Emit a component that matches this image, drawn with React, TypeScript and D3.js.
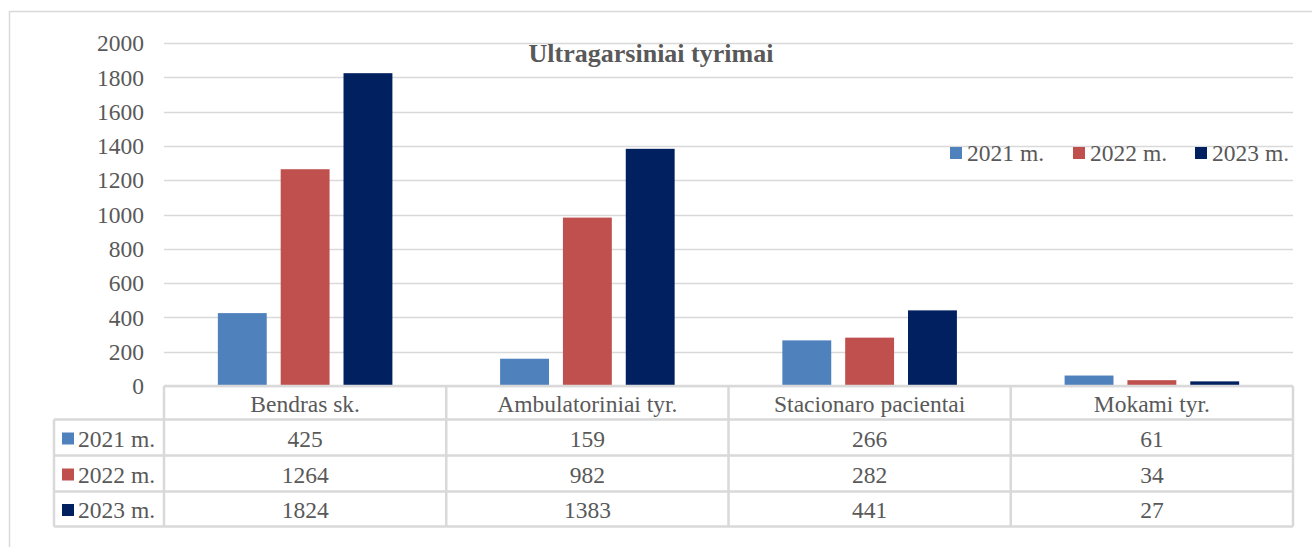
import { useEffect, useRef } from 'react';
import * as d3 from 'd3';

const categories = ['Bendras sk.', 'Ambulatoriniai tyr.', 'Stacionaro pacientai', 'Mokami tyr.'];
const seriesNames = ['2021 m.', '2022 m.', '2023 m.'];
const values2021 = [425, 159, 266, 61];
const values2022 = [1264, 982, 282, 34];
const values2023 = [1824, 1383, 441, 27];
const yTicks = [0, 200, 400, 600, 800, 1000, 1200, 1400, 1600, 1800, 2000];
const colors = ['#4F81BD', '#C0504D', '#002060'];
const title = 'Ultragarsiniai tyrimai';

export default function App() {
  const svgRef = useRef<SVGSVGElement>(null);

  useEffect(() => {
    if (!svgRef.current) return;
    const svg = d3.select(svgRef.current);
    svg.selectAll('*').remove();

    const width = 1312;
    const height = 547;
    const font = '"Liberation Serif", "Times New Roman", serif';
    const fs = 23.5;
    const textColor = '#595959';
    const lineColor = '#d9d9d9';
    const series = [values2021, values2022, values2023];

    svg.attr('width', width).attr('height', height);

    // outer chart border
    svg
      .append('rect')
      .attr('x', 9.5)
      .attr('y', 11.5)
      .attr('width', width + 10)
      .attr('height', height + 10)
      .attr('fill', 'white')
      .attr('stroke', lineColor)
      .attr('stroke-width', 1.5);

    const plotLeft = 164;
    const plotRight = 1293;
    const y = d3.scaleLinear().domain([0, 2000]).range([386, 43]);
    const x = d3.scaleBand<string>().domain(categories).range([plotLeft, plotRight]).padding(0);
    const xInner = d3
      .scaleBand<string>()
      .domain(seriesNames)
      .range([0, x.bandwidth()])
      .paddingInner(0.222)
      .paddingOuter(0.857);

    // gridlines
    svg
      .append('g')
      .selectAll('line')
      .data(yTicks)
      .join('line')
      .attr('x1', plotLeft)
      .attr('x2', plotRight)
      .attr('y1', (d) => Math.round(y(d)) + 0.5)
      .attr('y2', (d) => Math.round(y(d)) + 0.5)
      .attr('stroke', lineColor)
      .attr('stroke-width', 1.5);

    // y labels
    svg
      .append('g')
      .selectAll('text')
      .data(yTicks)
      .join('text')
      .attr('x', 144)
      .attr('y', (d) => y(d))
      .attr('dy', '0.35em')
      .attr('text-anchor', 'end')
      .attr('font-family', font)
      .attr('font-size', fs)
      .attr('fill', textColor)
      .text((d) => d);

    // bars
    series.forEach((vals, si) => {
      svg
        .append('g')
        .selectAll('rect')
        .data(vals)
        .join('rect')
        .attr('x', (d, i) => (x(categories[i]) as number) + (xInner(seriesNames[si]) as number))
        .attr('y', (d) => y(d))
        .attr('width', xInner.bandwidth())
        .attr('height', (d) => y(0) - y(d))
        .attr('fill', colors[si]);
    });

    // title
    svg
      .append('text')
      .attr('x', 651)
      .attr('y', 62)
      .attr('text-anchor', 'middle')
      .attr('font-family', font)
      .attr('font-size', 26)
      .attr('font-weight', 'bold')
      .attr('fill', textColor)
      .text(title);

    // legend
    const legendX = [950, 1073, 1195];
    seriesNames.forEach((name, i) => {
      const g = svg.append('g').attr('transform', `translate(${legendX[i]},153)`);
      g.append('rect').attr('x', 0).attr('y', -6).attr('width', 12).attr('height', 12).attr('fill', colors[i]);
      g.append('text')
        .attr('x', 17)
        .attr('y', 0)
        .attr('dy', '0.35em')
        .attr('font-family', font)
        .attr('font-size', fs)
        .attr('fill', textColor)
        .text(name);
    });

    // data table
    const rowsY = [386, 419.5, 455.5, 491.5, 526.5];
    const tableLeft = 54;
    const tg = svg.append('g').attr('stroke', lineColor).attr('stroke-width', 2.5).attr('fill', 'none');
    tg.append('line').attr('x1', plotLeft).attr('x2', plotRight).attr('y1', rowsY[0]).attr('y2', rowsY[0]);
    rowsY.slice(1).forEach((ry) => {
      tg.append('line').attr('x1', tableLeft).attr('x2', plotRight).attr('y1', ry).attr('y2', ry);
    });
    tg.append('line').attr('x1', tableLeft).attr('x2', tableLeft).attr('y1', rowsY[1]).attr('y2', rowsY[4]);
    const colEdges = [plotLeft, ...categories.map((c) => (x(c) as number) + x.bandwidth())];
    colEdges.forEach((cx) => {
      tg.append('line').attr('x1', cx).attr('x2', cx).attr('y1', rowsY[0]).attr('y2', rowsY[4]);
    });

    // header labels
    svg
      .append('g')
      .selectAll('text')
      .data(categories)
      .join('text')
      .attr('x', (d) => (x(d) as number) + x.bandwidth() / 2)
      .attr('y', (rowsY[0] + rowsY[1]) / 2 + 1)
      .attr('dy', '0.35em')
      .attr('text-anchor', 'middle')
      .attr('font-family', font)
      .attr('font-size', fs)
      .attr('fill', textColor)
      .text((d) => d);

    // rows
    series.forEach((vals, si) => {
      const cy = (rowsY[si + 1] + rowsY[si + 2]) / 2 + 1;
      svg
        .append('rect')
        .attr('x', 62)
        .attr('y', cy - 6)
        .attr('width', 12)
        .attr('height', 12)
        .attr('fill', colors[si]);
      svg
        .append('text')
        .attr('x', 78)
        .attr('y', cy)
        .attr('dy', '0.35em')
        .attr('font-family', font)
        .attr('font-size', fs)
        .attr('fill', textColor)
        .text(seriesNames[si]);
      svg
        .append('g')
        .selectAll('text')
        .data(vals)
        .join('text')
        .attr('x', (d, i) => (x(categories[i]) as number) + x.bandwidth() / 2)
        .attr('y', cy)
        .attr('dy', '0.35em')
        .attr('text-anchor', 'middle')
        .attr('font-family', font)
        .attr('font-size', fs)
        .attr('fill', textColor)
        .text((d) => d);
    });
  }, []);

  return (
    <div style={{ position: 'absolute', left: 0, top: 0 }}>
      <svg ref={svgRef} style={{ display: 'block' }}></svg>
    </div>
  );
}
